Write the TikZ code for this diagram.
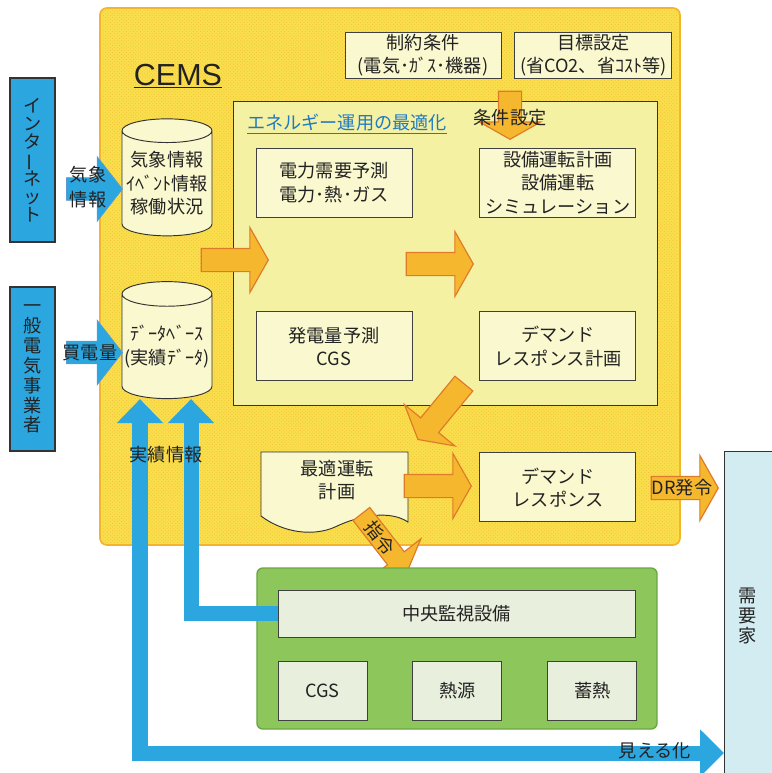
\documentclass[tikz,border=0pt]{standalone}
\usepackage{fontspec}
\setmainfont{Noto Sans CJK JP}
\newfontfamily\arialfont{Liberation Sans}
\usetikzlibrary{positioning, arrows.meta, shapes.geometric, shapes.arrows, patterns, calc}

\definecolor{cemsfill}{HTML}{FADF4C}
\definecolor{cemsdot}{HTML}{F4C23C}
\definecolor{cemsline}{HTML}{F4B42C}
\definecolor{optfill}{HTML}{F5F1A2}
\definecolor{creamfill}{HTML}{FAF8CF}
\definecolor{arrowfill}{HTML}{F5B72D}
\definecolor{arrowline}{HTML}{E07A2B}
\definecolor{netblue}{HTML}{2CA6DF}
\definecolor{netline}{HTML}{5B9BD5}
\definecolor{grnfill}{HTML}{8DC65A}
\definecolor{grnline}{HTML}{6BA646}
\definecolor{grnbox}{HTML}{E8EFDD}
\definecolor{custfill}{HTML}{D2ECF2}
\definecolor{titleblue}{HTML}{1F7AC4}
\definecolor{txt}{HTML}{222222}

\newcommand{\jpsize}{\fontsize{15.5pt}{20pt}\selectfont}

\begin{document}
\begin{tikzpicture}[
			x=0.03cm, y=-0.03cm,
			font=\jpsize, text=txt,
			infobox/.style={
				draw=black!75, fill=creamfill, line width=0.8pt, align=center,
				inner sep=0pt, minimum width=4.68cm, minimum height=2.07cm
			},
			grnsub/.style={draw=black!75, fill=grnbox, line width=0.8pt, align=center, inner sep=0pt},
			dbstyle/.style={
				cylinder, shape border rotate=90, aspect=0.29, draw=black!80, fill=creamfill,
				line width=0.8pt, align=center, minimum width=2.7cm, minimum height=3.51cm, inner sep=0pt
			},
			oarrow/.style={
				single arrow, draw=arrowline, fill=arrowfill, line width=1pt,
				inner xsep=0pt, inner ysep=0.33cm,
				single arrow head extend=0.63cm, single arrow tip angle=121
			},
			barrow/.style={
				single arrow, draw=netline, fill=netblue, line width=0.6pt,
				inner xsep=0pt, inner ysep=0.33cm,
				single arrow head extend=0.63cm, single arrow tip angle=104
			},
			bluepath/.style={draw=netblue, line width=0.45cm},
			bluetip/.style={-{Triangle[width=1.35cm, length=0.72cm]}},
			sidebox/.style={
				draw=black!80, fill=netblue, line width=1pt, inner sep=0pt, align=center,
				minimum width=1.35cm, minimum height=4.92cm
			},
			vtext/.style={align=center, font={\fontsize{15.5pt}{17pt}\selectfont\lineskiplimit=-\maxdimen}}
			]
			\useasboundingbox (0,0) rectangle (771,773);
			
			% 1. CEMS FRAME (Background)
			\fill[cemsfill, rounded corners=6pt] (100,8) rectangle (680,545);
			\fill[pattern=crosshatch dots, pattern color=cemsdot] (102,10) rectangle (678,543);
			\draw[cemsline, line width=1.5pt, rounded corners=6pt] (100,8) rectangle (680,545);
			\node[font=\arialfont\fontsize{26pt}{30pt}\selectfont] (cemslabel) at (178,76) {\underline{CEMS}};
			
			\node[infobox, minimum height=1.38cm] (limits) at (423,55) {制約条件\\(電気･ｶﾞｽ･機器)};
			\node[infobox, minimum width=4.71cm, minimum height=1.38cm, right=0.39cm of limits] (target) {目標設定\\(省CO2、省ｺｽﾄ等)};
			
			% 2. DATA STORES (Left)
			\node[dbstyle] (weather) at (167,183.5) {気象情報\\ｲﾍﾞﾝﾄ情報\\稼働状況};
			\node[dbstyle] (db) at (167,346.5) {ﾃﾞｰﾀﾍﾞｰｽ\\(実績ﾃﾞｰﾀ)};
			
			% 3. OPTIMISATION BLOCK (Center)
			\node[draw=black!80, fill=optfill, line width=0.8pt, minimum width=12.72cm, minimum height=9.12cm] (opt) at (445,253) {};
			\node[anchor=west, text=titleblue] (opttitle) at (243,124) {\underline{エネルギー運用の最適化}};
			\node[infobox] (demand) at (334,182.5) {電力需要予測\\電力･熱･ガス};
			\node[infobox, right=2.01cm of demand] (plan) {設備運転計画\\設備運転\\シミュレーション};
			\node[infobox, below=2.82cm of demand] (gen) {発電量予測\\CGS};
			\node[infobox, below=2.82cm of plan] (drplan) {デマンド\\レスポンス計画};
			
			\node[oarrow, minimum height=1.44cm, single arrow head extend=0.57cm, rotate=-90] (condarrow) at (510,112) {};
			\node (condlabel) at (510,118) {条件設定};
			\node[oarrow, minimum height=2.01cm] (inarrow) at (231.5,260) {};
			\node[oarrow, minimum height=2.01cm] (midarrow) at (436.5,264) {};
			\node[oarrow, minimum height=2.17cm, rotate=230.6] (backarrow) at (443,409) {};
			
			% 4. OPERATION PLAN & DR (Bottom of CEMS)
			\draw[draw=black!80, fill=creamfill, line width=0.8pt]
			(261,452) -- (408,452) -- (408,522)
			.. controls (390,510) and (360,515) .. (335,527)
			.. controls (315,536) and (285,534) .. (261,516) -- cycle;
			\node[align=center] (doc) at (337,480) {最適運転\\計画};
			\node[infobox, below=2.13cm of drplan] (drbox) {デマンド\\レスポンス};
			\node[oarrow, minimum height=2.01cm] (docarrow) at (434.5,486) {};
			\node[oarrow, minimum height=2.01cm] (drarrow) at (681.5,488) {};
			\node (drlabel) at (682,488) {DR発令};
			\node[oarrow, minimum height=2.22cm, inner ysep=0.3cm, rotate=-52.1] (cmdarrow) at (382.3,540.8) {};
			\node[rotate=-52] (cmdlabel) at (380,538) {指令};
			
			% 5. SITE EQUIPMENT (Green)
			\node[draw=grnline, fill=grnfill, line width=1.2pt, rounded corners=5pt, minimum width=12cm, minimum height=4.83cm] (site) at (457,648.5) {};
			\node[grnsub, minimum width=10.71cm, minimum height=1.41cm] (monitor) at (456.5,613.5) {中央監視設備};
			\node[grnsub, minimum width=2.67cm, minimum height=1.77cm] (cgs) at (322.5,690.5) {CGS};
			\node[grnsub, minimum width=2.67cm, minimum height=1.77cm, right=1.35cm of cgs] (heat) {熱源};
			\node[grnsub, minimum width=2.67cm, minimum height=1.77cm, right=1.35cm of heat] (store) {蓄熱};
			
			% 6. OUTSIDE PARTIES
			\node[sidebox] (net) at (32.5,160) {};
			\node[vtext, font={\fontsize{15.5pt}{15.5pt}\selectfont\lineskiplimit=-\maxdimen}] at (net) {イ\\ン\\タ\\\rotatebox[origin=c]{90}{ー}\\ネ\\ッ\\ト};
			\node[sidebox] (utility) at (32.5,369) {};
			\node[vtext] at (utility) {一\\般\\電\\気\\事\\業\\者};
			\node[draw=black!80, fill=custfill, line width=1pt, anchor=north west, minimum width=1.7cm, minimum height=10cm] (cust) at (724,451) {};
			\node[vtext] at (748,616) {需\\要\\家};
			
			\node[barrow, minimum height=1.68cm] (wxarrow) at (90,189) {};
			\node[align=center, font=\fontsize{15.5pt}{21pt}\selectfont] at (88,187) {気象\\情報};
			\node[barrow, minimum height=1.68cm] (buyarrow) at (90,352.5) {};
			\node at (90,353) {買電量};
			
			% 7. RESULT FEEDBACK (Blue paths)
			\draw[bluepath, {Triangle[width=1.35cm, length=0.72cm]}-{Triangle[width=1.38cm, length=0.72cm]}]
			([xshift=-0.81cm]db.south) |- (cust.west |- 0,753);
			\draw[bluepath, bluetip] (monitor.west) -| ([xshift=0.72cm]db.south);
			\node (resultlabel) at (166,455) {実績情報};
			\node (vislabel) at (655,751) {見える化};
		\end{tikzpicture}
\end{document}
